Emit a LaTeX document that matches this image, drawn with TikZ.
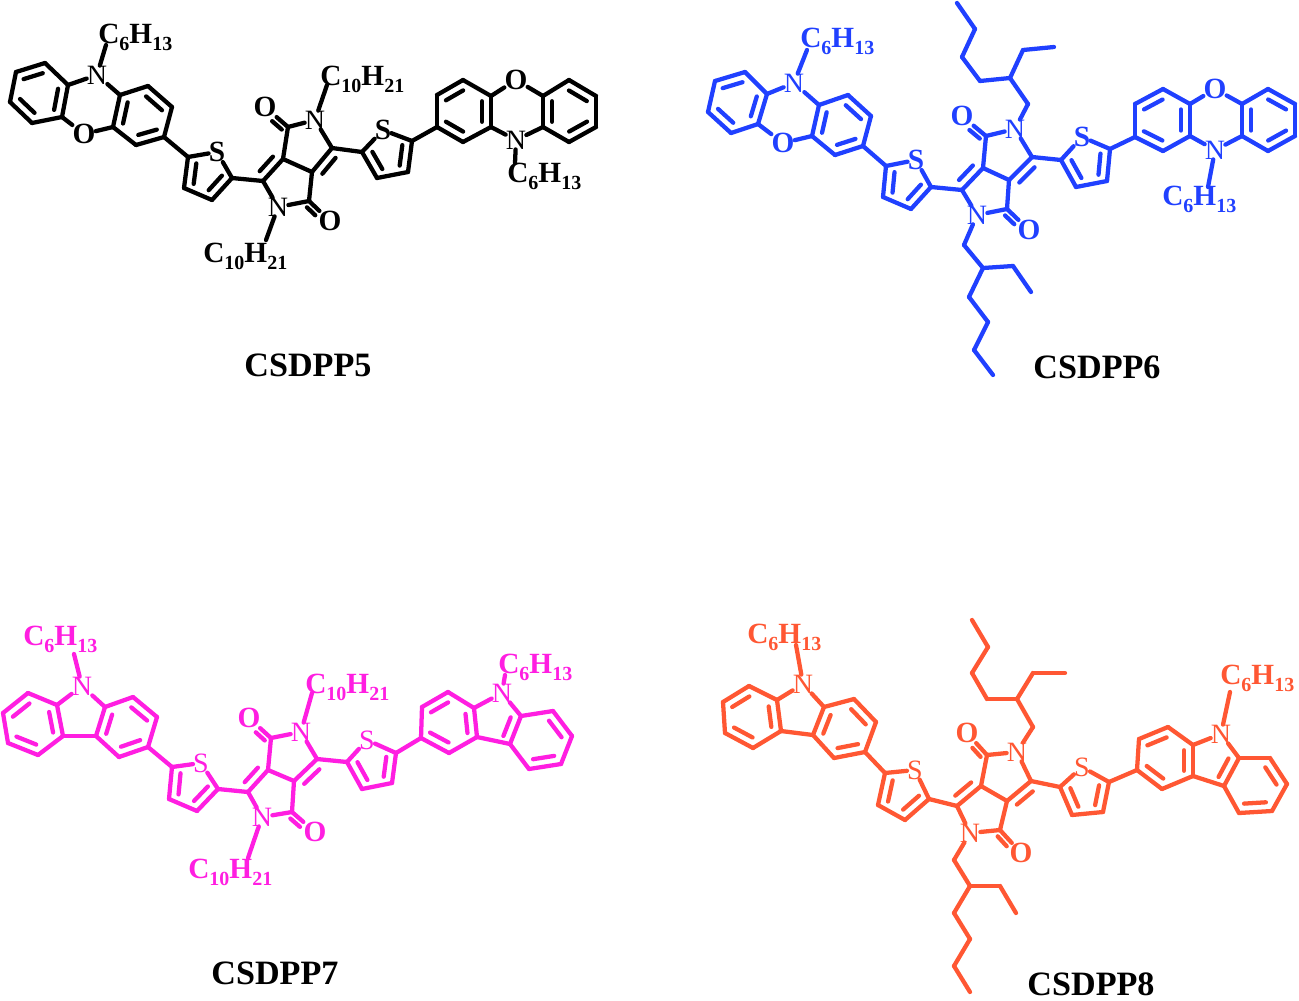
\documentclass[tikz,border=0pt]{standalone}
\usepackage{fontspec}
\setmainfont{Liberation Serif}
\usetikzlibrary{calc}

\definecolor{molblue}{RGB}{32,64,255}
\definecolor{molpink}{RGB}{255,30,225}
\definecolor{molred}{RGB}{255,87,51}

\tikzset{
  bond/.style={line width=3.2pt,line cap=round,line join=round},
  atom/.style={inner sep=0pt,font=\fontsize{21}{21}\selectfont},
  boldatom/.style={inner sep=0pt,font=\bfseries\fontsize{22}{22}\selectfont},
  chain/.style={inner sep=0pt,anchor=base west,font=\bfseries\fontsize{22}{22}\selectfont},
  caption/.style={inner sep=0pt,font=\bfseries\fontsize{25.6}{26}\selectfont}
}
\newcommand{\chemsub}[1]{\raisebox{-5.5pt}{\fontsize{15}{15}\selectfont #1}}
\newcommand{\hexyl}{C\chemsub{6}H\chemsub{13}}
\newcommand{\decyl}{C\chemsub{10}H\chemsub{21}}
\newcommand{\setatoms}[1]{\foreach \nm/\px/\py in {#1} \coordinate (\nm) at (\px,\py);}
\newcommand{\setlabels}[2]{\foreach \nm/\px/\py/\lab in {#2} \node[#1] (\nm) at (\px,\py) {\lab};}
\newcommand{\drawbonds}[1]{\foreach \ua/\ub in {#1} \draw[bond] (\ua) -- (\ub);}
\newcommand{\dblbonds}[1]{\foreach \ua/\ub in {#1}
  \draw[bond] ($(\ua)!.17!(\ub)!6.8pt!90:(\ub)$) -- ($(\ub)!.17!(\ua)!6.8pt!-90:(\ua)$);}
% bonds shared by the four molecules
\newcommand{\backbone}{
  \drawbonds{a1/a2,a2/a3,a3/a4,a4/a5,a5/a6,a6/a1,b1/b2,b2/b3,b3/b4,b4/b5,b5/b6,b6/b1,
    a3/n1,n1/b1,b4/t1,t1/s1,s1/t2,t2/t3,t3/t4,t4/t1,t2/c1,c1/c4,c1/n2,n2/c2,c2/c3,c3/c4,
    c4/c5,c5/n3,n3/c6,c6/c3,c6/t5,t5/s2,s2/t6,t6/t7,t7/t8,t8/t5,t6/d1,
    d1/d2,d2/d3,d3/d4,d4/d5,d5/d6,d6/d1,e1/e2,e2/e3,e3/e4,e4/e5,e5/e6,e6/e1,
    c2/o2,c5/o3,n1/k1,n4/k2,n3/k3,n2/k4}
  \dblbonds{a1/a2,a3/a4,a5/a6,b6/b1,b2/b3,b4/b5,t2/t3,t4/t1,c4/c1,c3/c6,t6/t7,t8/t5,
    d2/d3,d4/d5,d6/d1,e2/e3,e4/e5}
  \foreach \ua/\ub/\sd in {c2/o2/1,c5/o3/-1}
    \draw[bond,shorten >=11pt] ($(\ua)!.1!(\ub)!\sd*4.5pt!90:(\ub)$) -- ($(\ub)!\sd*4.5pt!-90:(\ua)$);
}
\newcommand{\hexylbonds}{
  \drawbonds{r1/r2,r2/r3,r3/r4,r2/r5,r5/r6,r6/r7,r7/r8,q1/q2,q2/q3,q3/q4,q2/q5,q5/q6,q6/q7,q7/q8}
}

\begin{document}
\begin{tikzpicture}[x=0.75pt,y=0.75pt,yscale=-1,xscale=1]
\useasboundingbox (0,0) rectangle (1299,1000);

%CSDPP5
\begin{scope}[name prefix=m5-,color=black]
\setatoms{a1/16/72,a2/45/63,a3/68/85,a4/62/117,a5/32/123,a6/10/102,
  b1/120/95,b2/148/86,b3/172/107,b4/164/137,b5/136/145,b6/113/127,
  t1/188/157,t2/232/178,t3/212/200,t4/184/188,c1/263/181,c2/309/201,c3/312/172,c4/283/159,c5/288/127,c6/332/148,
  t5/362/152,t6/412/141,t7/408/172,t8/377/178,d1/437/127,d2/437/95,d3/463/80,d4/491/96,d5/491/127,d6/463/142,
  e1/543/96,e2/569/80,e3/596/96,e4/596/127,e5/569/142,e6/543/127,
  k1/106/45,k2/515/163,k3/327/85,k4/266/240}
\setlabels{atom}{n1/97/75/N,n2/278/207/N,n3/315/120/N,n4/516/140/N}
\setlabels{boldatom}{o1/84/134/O,o2/330/221/O,o3/265/107/O,o4/516/80/O,s1/217/152/S,s2/383/130/S}
\setlabels{chain}{l1/98/43/\hexyl,l2/507/182/\hexyl,l3/320/85/\decyl,l4/203/262/\decyl}
\backbone
\drawbonds{a4/o1,o1/b6,d4/o4,o4/e1,d5/n4,n4/e6}
\dblbonds{e6/e1}
\node[caption] (name5) at (308,365) {CSDPP5};
\end{scope}

%CSDPP6
\begin{scope}[name prefix=m6-,color=molblue]
\setatoms{a1/715/81,a2/745/72,a3/767/94,a4/758/124,a5/731/133,a6/708/112,
  b1/819/105,b2/848/95,b3/871/116,b4/863/146,b5/835/155,b6/812/136,
  t1/886/166,t2/931/187,t3/911/209,t4/883/197,c1/962/190,c2/1007/209,c3/1009/180,c4/983/168,c5/986/136,c6/1032/157,
  t5/1061/160,t6/1110/149,t7/1107/181,t8/1076/187,d1/1135/137,d2/1135/104,d3/1163/89,d4/1190/104,d5/1190/136,d6/1163/151,
  e1/1242/104,e2/1268/89,e3/1295/104,e4/1295/136,e5/1268/151,e6/1242/136,
  k1/807/50,k2/1208/187,
  r1/1028/104,r2/1010/78,r3/1023/50,r4/1054/47,r5/980/81,r6/962/57,r7/975/29,r8/957/3,
  q1/964/245,q2/983/268,q3/1013/266,q4/1031/292,q5/969/297,q6/988/322,q7/974/350,q8/993/375}
\coordinate (k3) at (r1); \coordinate (k4) at (q1);
\setlabels{atom}{n1/794/83/N,n2/977/215/N,n3/1015/129/N,n4/1215/150/N}
\setlabels{boldatom}{o1/783/143/O,o2/1029/230/O,o3/962/116/O,o4/1215/89/O,s1/916/160/S,s2/1082/137/S}
\setlabels{chain}{l1/800/47/\hexyl,l2/1162/205/\hexyl}
\backbone
\hexylbonds
\drawbonds{a4/o1,o1/b6,d4/o4,o4/e1,d5/n4,n4/e6}
\dblbonds{e6/e1}
\node[caption,color=black] (name6) at (1097,367) {CSDPP6};
\end{scope}

%CSDPP7
\begin{scope}[name prefix=m7-,color=molpink]
\setatoms{a1/3/713,a2/28/693,a3/57/705,a4/63/736,a5/38/755,a6/8/743,
  b1/105/707,b2/133/697,b3/157/717,b4/148/747,b5/119/757,b6/96/736,
  t1/172/767,t2/218/789,t3/197/811,t4/169/799,c1/248/792,c2/292/812,c3/294/781,c4/268/770,c5/271/738,c6/317/759,
  t5/347/762,t6/396/753,t7/392/783,t8/362/789,d1/421/738,d2/422/707,d3/448/692,d4/474/708,d5/477/737,d6/449/753,
  e1/521/716,e2/553/711,e3/572/736,e4/561/764,e5/529/769,e6/510/744,
  k1/74/654,k2/505/675,k3/312/693,k4/248/858}
\setlabels{atom}{n1/82/686/N,n2/262/817/N,n3/301/732/N,n4/502/693/N,s1/201/763/S,s2/367/740/S}
\setlabels{boldatom}{o2/315/832/O,o3/249/718/O}
\setlabels{chain}{l1/23/645/\hexyl,l2/498/673/\hexyl,l3/305/693/\decyl,l4/188/878/\decyl}
\backbone
\drawbonds{a4/b6,d4/n4,n4/e1,d5/e6}
\dblbonds{e1/e6}
\node[caption,color=black] (name7) at (275,973) {CSDPP7};
\end{scope}

%CSDPP8
\begin{scope}[name prefix=m8-,color=molred]
\setatoms{a1/723/702,a2/749/686,a3/777/700,a4/781/731,a5/753/748,a6/725/733,
  b1/824/707,b2/854/699,b3/876/722,b4/865/752,b5/834/758,b6/813/735,
  t1/885/773,t2/929/799,t3/905/820,t4/878/805,c1/957/806,c2/1000/830,c3/1007/801,c4/981/786,c5/987/755,c6/1031/781,
  t5/1060/787,t6/1109/782,t7/1103/812,t8/1072/815,d1/1137/770,d2/1139/739,d3/1168/727,d4/1193/745,d5/1193/776,d6/1162/789,
  e1/1239/758,e2/1270/758,e3/1287/784,e4/1272/811,e5/1239/813,e6/1224/786,
  k1/796/645,k2/1230/692,
  r1/1033/727,r2/1017/699,r3/1033/673,r4/1065/673,r5/987/699,r6/972/673,r7/988/647,r8/972/620,
  q1/954/860,q2/970/886,q3/1000/886,q4/1016/913,q5/954/913,q6/970/939,q7/954/966,q8/970/992}
\coordinate (k3) at (r1); \coordinate (k4) at (q1);
\setlabels{atom}{n1/803/684/N,n2/970/833/N,n3/1017/752/N,n4/1221/734/N,s1/915/770/S,s2/1082/767/S}
\setlabels{boldatom}{o2/1021/853/O,o3/967/733/O}
\setlabels{chain}{l1/747/643/\hexyl,l2/1220/684/\hexyl}
\backbone
\hexylbonds
\drawbonds{a4/b6,d4/n4,n4/e1,d5/e6}
\dblbonds{e1/e6}
\node[caption,color=black] (name8) at (1091,984) {CSDPP8};
\end{scope}

\end{tikzpicture}
\end{document}
